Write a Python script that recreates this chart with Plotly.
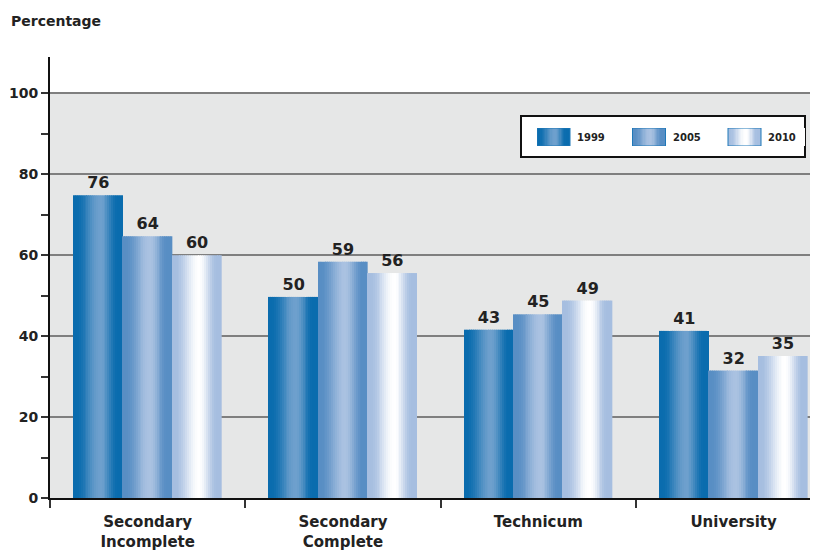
import math
import plotly.graph_objects as go

categories = ["Secondary<br>Incomplete", "Secondary<br>Complete", "Technicum", "University"]
years = ["1999", "2005", "2010"]
# bar heights as drawn in the picture
heights_1999 = [74.8, 49.7, 41.6, 41.3]
heights_2005 = [64.7, 58.4, 45.4, 31.5]
heights_2010 = [60.0, 55.6, 48.8, 35.1]
# value labels printed above the bars
labels_1999 = [76, 50, 43, 41]
labels_2005 = [64, 59, 45, 32]
labels_2010 = [60, 56, 49, 35]
y_ticks = [0, 20, 40, 60, 80, 100]

series = [heights_1999, heights_2005, heights_2010]
series_labels = [labels_1999, labels_2005, labels_2010]
edge_colors = [(10, 108, 174), (88, 142, 196), (166, 190, 224)]
mid_colors = [(110, 160, 205), (170, 194, 225), (255, 255, 255)]

FONT = "DejaVu Sans"
N = 26
bw = 0.2527
offsets = [-1.5 * bw, -0.5 * bw, 0.5 * bw]

# page body has an 8px margin: figure is placed at (8, 8)
W, H = 810, 545
ML, MT, MB = 42, 49, 55
PW, PH = W - ML, H - MT - MB  # 768 x 441


def sx(px):  # screen x pixel -> paper x
    return (px - 8 - ML) / PW


def sy(py):  # screen y pixel -> paper y
    return (H - MB - (py - 8)) / PH


def profile(t):
    if t < 0.06:
        return 0.0
    if t < 0.55:
        u = (t - 0.06) / 0.49
        return 0.5 - 0.5 * math.cos(math.pi * u)
    if t < 0.9:
        u = (t - 0.55) / 0.35
        return 0.5 + 0.5 * math.cos(math.pi * u)
    return 0.0


def mix(a, b, f):
    return "rgb(%d,%d,%d)" % tuple(round(a[i] + (b[i] - a[i]) * f) for i in range(3))


fig = go.Figure()

for s, vals in enumerate(series):
    for k in range(N):
        f = profile((k + 0.5) / N)
        fig.add_trace(go.Bar(
            x=categories, y=vals, width=bw / N, offset=offsets[s] + k * bw / N,
            marker=dict(color=mix(edge_colors[s], mid_colors[s], f), line=dict(width=0)),
            showlegend=False, hoverinfo="skip",
        ))
    fig.add_trace(go.Bar(
        x=categories, y=vals, width=bw, offset=offsets[s],
        marker=dict(color="rgba(0,0,0,0)", line=dict(width=0)),
        text=[str(v) for v in series_labels[s]], textposition="outside",
        textfont=dict(family=FONT, size=16, color="#222222", weight="bold"),
        cliponaxis=False, showlegend=False, hoverinfo="skip",
    ))

# custom legend with gradient swatches, drawn on its own small axes
legend_x = [0, 1, 2]
legend_h = [1, 1, 1]
sw = 33 / 95.5
for s, yr in enumerate(years):
    for k in range(N):
        f = profile((k + 0.5) / N)
        fig.add_trace(go.Bar(
            x=[legend_x[s]], y=[legend_h[s]], width=sw / N, offset=k * sw / N,
            xaxis="x2", yaxis="y2",
            marker=dict(color=mix(edge_colors[s], mid_colors[s], f), line=dict(width=0)),
            showlegend=False, hoverinfo="skip",
        ))
    fig.add_trace(go.Bar(
        x=[legend_x[s]], y=[legend_h[s]], width=sw, offset=0,
        xaxis="x2", yaxis="y2",
        marker=dict(color="rgba(0,0,0,0)", line=dict(color="#1f78b8", width=1)),
        showlegend=False, hoverinfo="skip",
    ))

fig.add_shape(type="rect", xref="paper", x0=0, x1=1, yref="y", y0=0, y1=100,
              fillcolor="#e6e7e7", line=dict(width=0), layer="below")
fig.add_shape(type="rect", xref="paper", x0=sx(521), x1=sx(805), yref="paper",
              y0=sy(157), y1=sy(116), fillcolor="white",
              line=dict(color="#111111", width=2), layer="below")

annotations = [dict(
    text="<b>Percentage</b>", xref="paper", yref="paper",
    x=sx(9), y=sy(21), xanchor="left", yanchor="middle",
    showarrow=False, font=dict(family=FONT, size=14, color="#222222"),
)]
for s, yr in enumerate(years):
    annotations.append(dict(
        text="<b>%s</b>" % yr, xref="x2", yref="y2",
        x=legend_x[s] + 38 / 95.5, y=0.5, xanchor="left", yanchor="middle",
        showarrow=False, font=dict(family=FONT, size=10, color="#222222"),
    ))

x2_left, x2_right = 537, 805
fig.update_layout(
    width=W, height=H,
    margin=dict(l=ML, r=0, t=MT, b=MB),
    barmode="overlay",
    plot_bgcolor="white", paper_bgcolor="white",
    font=dict(family=FONT, color="#222222"),
    showlegend=False,
    annotations=annotations,
    xaxis2=dict(domain=[sx(x2_left), sx(x2_right)], range=[0, (x2_right - x2_left) / 95.5],
                anchor="y2", visible=False, fixedrange=True),
    yaxis2=dict(domain=[sy(146), sy(128)], range=[0, 1], anchor="x2",
                visible=False, fixedrange=True),
)

fig.layout.xaxis.update(
    type="category", range=[-0.5, 3.432],
    showline=True, linecolor="#111111", linewidth=2,
    ticks="outside", tickson="boundaries", ticklen=8, tickwidth=2, tickcolor="#333333",
    tickfont=dict(family=FONT, size=15, color="#222222", weight="bold"),
    ticklabelstandoff=9,
    showgrid=False, layer="below traces", automargin=False,
)
fig.layout.yaxis.update(
    range=[0, 109], tickvals=y_ticks,
    showline=True, linecolor="#111111", linewidth=2,
    ticks="outside", ticklen=7, tickwidth=2, tickcolor="#333333",
    tickfont=dict(family=FONT, size=14, color="#222222", weight="bold"),
    showgrid=True, gridcolor="#7f7f7f", gridwidth=1.5, zeroline=False,
    minor=dict(dtick=10, tick0=0, ticks="outside", ticklen=7, tickwidth=2,
               tickcolor="#333333", showgrid=False),
    automargin=False,
)

fig.write_html("out.html")
